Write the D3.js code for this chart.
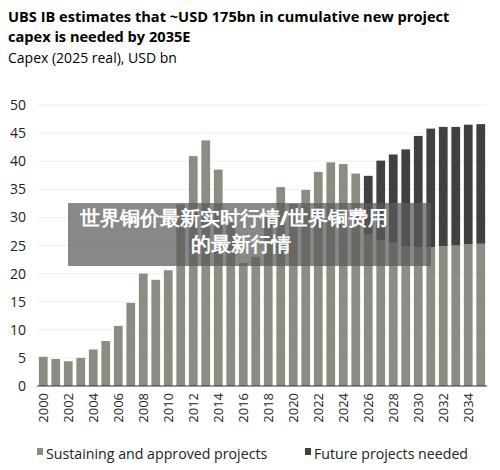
<!DOCTYPE html><html><head><meta charset="utf-8"><script src="https://cdn.jsdelivr.net/npm/d3@7"></script>
<style>body{margin:0;background:#fff}text{font-family:"Open Sans",sans-serif}</style></head><body><svg id="c" width="500" height="470"></svg>
<script>
const years=d3.range(2000,2036);
const sustaining=[5.2,4.8,4.4,5.0,6.5,8.0,10.7,14.8,20.0,18.9,20.6,32.3,40.9,43.7,38.5,29,21.9,23,30,35.4,32.4,34.9,38.1,39.8,39.5,37.8,27,26,25.5,24.8,24.7,24.7,24.9,25.0,25.2,25.3];
const totals=[5.2,4.8,4.4,5.0,6.5,8.0,10.7,14.8,20.0,18.9,20.6,32.3,40.9,43.7,38.5,29,21.9,23,30,35.4,32.4,34.9,38.1,39.8,39.5,37.8,37.4,40.1,41.2,42.1,44.5,45.8,46.1,46.1,46.5,46.6];
const yTicks=[0,5,10,15,20,25,30,35,40,45,50];
const svg=d3.select("#c");
const x=d3.scaleBand().domain(years).range([37,487]).paddingInner(0.3).paddingOuter(0.15);
const y=d3.scaleLinear().domain([0,50]).range([386,105]);
svg.append("text").attr("x",8).attr("y",22).attr("font-size",14.6).attr("font-weight",700).text("UBS IB estimates that ~USD 175bn in cumulative new project");
svg.append("text").attr("x",8).attr("y",42).attr("font-size",14.6).attr("font-weight",700).text("capex is needed by 2035E");
svg.append("text").attr("x",8).attr("y",63).attr("font-size",14).text("Capex (2025 real), USD bn");
const g=svg.append("g");
yTicks.forEach(t=>{
 if(t>0)g.append("line").attr("x1",37).attr("x2",487).attr("y1",y(t)).attr("y2",y(t)).attr("stroke","#eeeeee");
 g.append("text").attr("x",26).attr("y",y(t)+5).attr("text-anchor","end").attr("font-size",14).attr("fill","#222").text(t);
});
g.selectAll(".s").data(years).join("rect").attr("x",d=>x(d)).attr("width",x.bandwidth()).attr("y",(d,i)=>y(sustaining[i])).attr("height",(d,i)=>y(0)-y(sustaining[i])).attr("fill","#8c8c82");
g.selectAll(".f").data(years).join("rect").attr("x",d=>x(d)).attr("width",x.bandwidth()).attr("y",(d,i)=>y(totals[i])).attr("height",(d,i)=>y(sustaining[i])-y(totals[i])).attr("fill","#404040");
g.append("line").attr("x1",37).attr("x2",487).attr("y1",386).attr("y2",386).attr("stroke","#333").attr("stroke-width",1.2);
years.filter(v=>v%2==0).forEach(v=>{
 const cx=x(v)+x.bandwidth()/2;
 g.append("text").attr("transform",`translate(${cx+5},393) rotate(-90)`).attr("text-anchor","end").attr("font-size",13).attr("fill","#222").text(v);
});
svg.append("rect").attr("x",37).attr("y",448).attr("width",6).attr("height",7).attr("fill","#8c8c82");
svg.append("text").attr("x",46).attr("y",459).attr("font-size",14.2).attr("fill","#222").text("Sustaining and approved projects");
svg.append("rect").attr("x",305).attr("y",448).attr("width",6).attr("height",7).attr("fill","#404040");
svg.append("text").attr("x",314).attr("y",459).attr("font-size",14.2).attr("fill","#222").text("Future projects needed");
svg.append("rect").attr("x",68).attr("y",203).attr("width",363).attr("height",63).attr("fill","rgba(90,90,90,0.72)");
svg.append("text").attr("x",234).attr("y",225).attr("text-anchor","middle").attr("font-size",19.5).attr("font-weight",900).attr("fill","#fff").attr("font-family","Noto Sans CJK SC").text("世界铜价最新实时行情/世界铜费用");
svg.append("text").attr("x",241).attr("y",251).attr("text-anchor","middle").attr("font-size",19.5).attr("font-weight",900).attr("fill","#fff").attr("font-family","Noto Sans CJK SC").text("的最新行情");
</script></body></html>
